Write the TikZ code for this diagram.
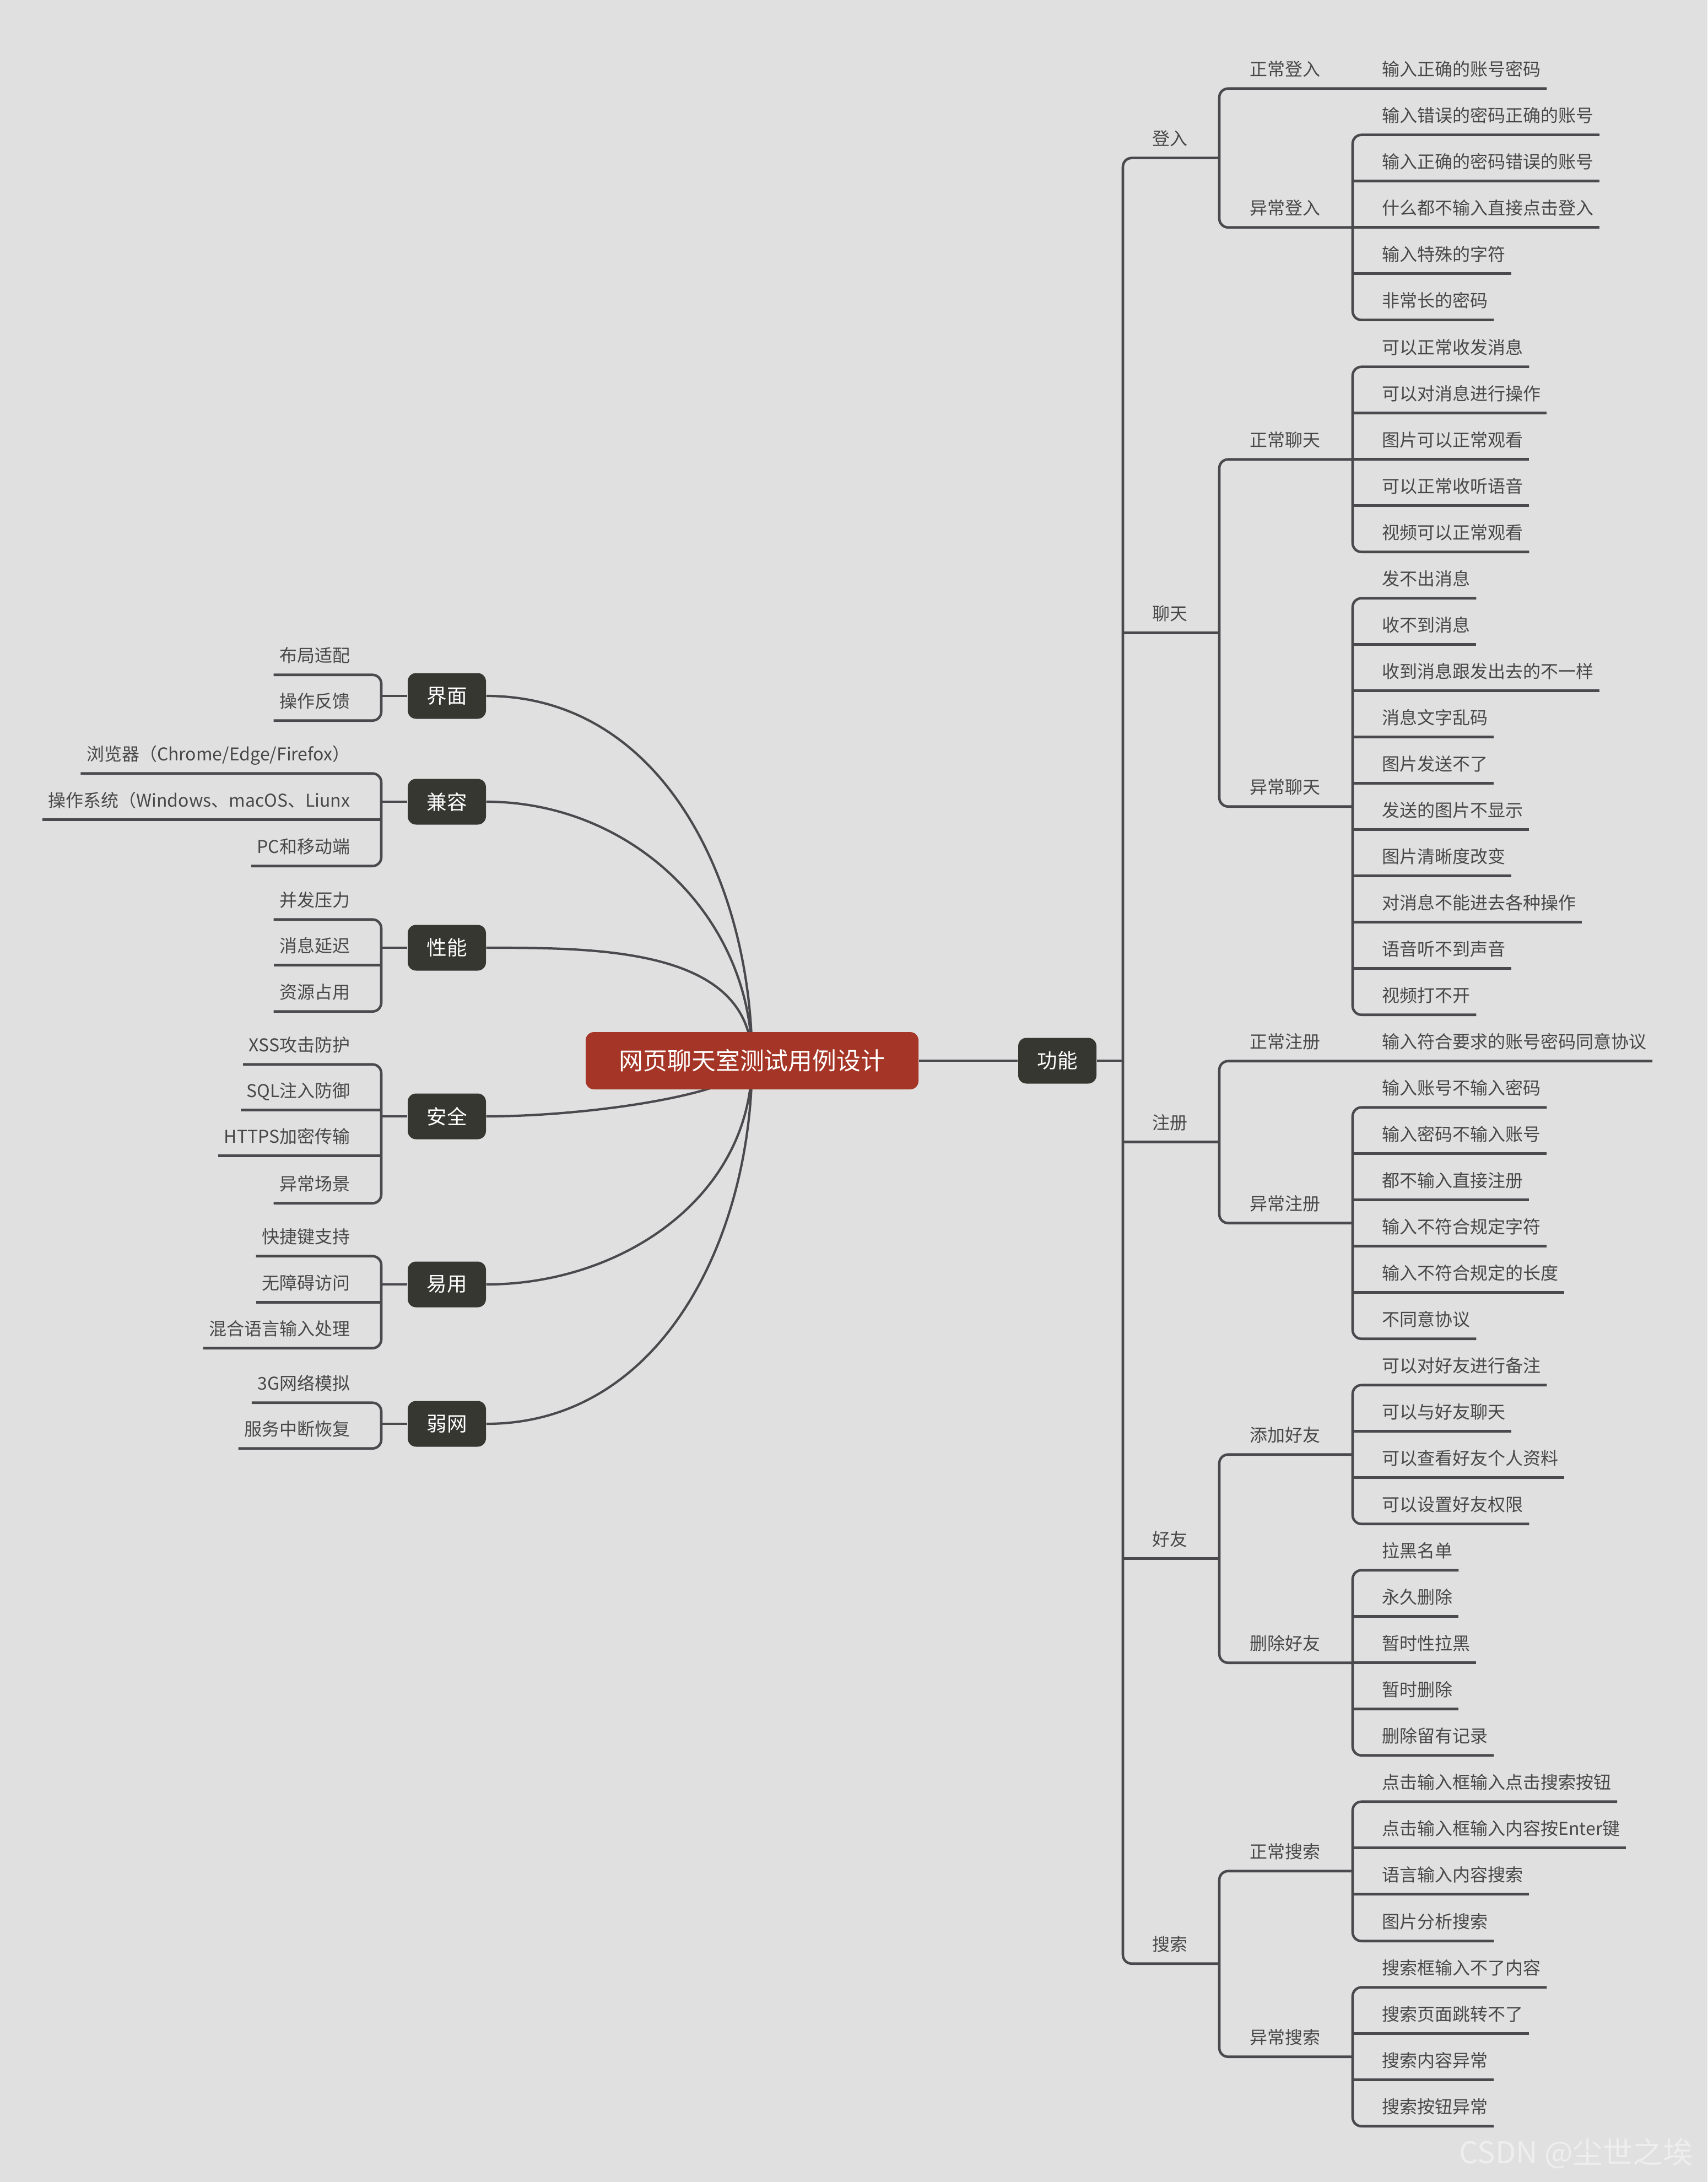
\documentclass[tikz,border=0pt]{standalone}
\usepackage{fontspec}
\setmainfont{Noto Sans CJK SC}
\usetikzlibrary{positioning, backgrounds}

\definecolor{paperbg}{RGB}{224,224,224}
\definecolor{rootred}{RGB}{165,53,38}
\definecolor{catdark}{RGB}{55,55,50}
\definecolor{linegray}{RGB}{74,74,78}
\definecolor{textgray}{RGB}{72,72,72}
\definecolor{markgray}{RGB}{238,238,238}

\pgfdeclarelayer{paper}
\pgfsetlayers{paper,background,main}

\begin{document}
\begin{tikzpicture}[
    root/.style={rectangle, rounded corners=0.15cm, fill=rootred, text=white, minimum width=6.04cm, minimum height=1.04cm, font=\fontsize{12.5}{15}\selectfont},
    cat/.style={rectangle, rounded corners=0.15cm, fill=catdark, text=white, minimum width=1.42cm, minimum height=0.83cm, font=\fontsize{10.4}{12}\selectfont},
    item/.style={inner xsep=0.1cm, inner ysep=0.18cm, text height=0.27cm, text depth=0.05cm, text=textgray, font=\fontsize{9.1}{11}\selectfont},
    ritem/.style={item, anchor=west},
    litem/.style={item, anchor=east},
    branch/.style={draw=linegray, line width=1.3pt, rounded corners=0.16cm},
    curve/.style={draw=linegray, line width=1.2pt}
]

% paper and size
\begin{pgfonlayer}{paper}
\fill[paperbg] (0,0) rectangle (30.99,-39.60);
\end{pgfonlayer}
\useasboundingbox (0,0) rectangle (30.99,-39.60);

% bracket columns
\coordinate (lx) at (6.92,0);
\coordinate (x1) at (20.38,0);
\coordinate (x2) at (22.13,0);
\coordinate (x3) at (24.55,0);

% === CENTRE ===
\node[root] (root) at (13.65,-19.25) {网页聊天室测试用例设计};
\node[cat] (gongneng) at (19.19,-19.25) {功能};
\draw[branch] (root.east) -- (gongneng.west);

% === LEFT CATEGORIES ===
\node[cat] (jiemian) at (8.11,-12.63) {界面};
\node[cat] (jianrong) at (8.11,-14.55) {兼容};
\node[cat] (xingneng) at (8.11,-17.20) {性能};
\node[cat] (anquan) at (8.11,-20.26) {安全};
\node[cat] (yiyong) at (8.11,-23.31) {易用};
\node[cat] (ruowang) at (8.11,-25.84) {弱网};

\begin{scope}[on background layer]
    \draw[curve] (jiemian.east) to[out=0, in=90] (root.center);
    \draw[curve] (jianrong.east) to[out=0, in=90] (root.center);
    \draw[curve] (xingneng.east) to[out=0, in=90] (root.center);
    \draw[curve] (anquan.east) to[out=0, in=-90, in looseness=0.3] (root.center);
    \draw[curve] (yiyong.east) to[out=0, in=-90] (root.center);
    \draw[curve] (ruowang.east) to[out=0, in=-90] (root.center);
\end{scope}

% left leaves
\node[litem] (jm1) at (6.46,-11.90) {布局适配};
\node[litem] (jm2) at (6.46,-12.73) {操作反馈};
\node[litem] (jr1) at (6.46,-13.69) {浏览器（Chrome/Edge/Firefox）};
\node[litem] (jr2) at (6.46,-14.53) {操作系统（Windows、macOS、Liunx};
\node[litem] (jr3) at (6.46,-15.37) {PC和移动端};
\node[litem] (xn1) at (6.46,-16.34) {并发压力};
\node[litem] (xn2) at (6.46,-17.17) {消息延迟};
\node[litem] (xn3) at (6.46,-18.01) {资源占用};
\node[litem] (aq1) at (6.46,-18.97) {XSS攻击防护};
\node[litem] (aq2) at (6.46,-19.80) {SQL注入防御};
\node[litem] (aq3) at (6.46,-20.63) {HTTPS加密传输};
\node[litem] (aq4) at (6.46,-21.49) {异常场景};
\node[litem] (yy1) at (6.46,-22.45) {快捷键支持};
\node[litem] (yy2) at (6.46,-23.29) {无障碍访问};
\node[litem] (yy3) at (6.46,-24.12) {混合语言输入处理};
\node[litem] (rw1) at (6.46,-25.11) {3G网络模拟};
\node[litem] (rw2) at (6.46,-25.94) {服务中断恢复};

% left brackets
\draw[branch] (jm1.south west) -- (lx |- jm1.south) -- (lx |- jm2.south) -- (jm2.south west);
\draw[branch] (lx |- jiemian) -- (jiemian.west);
\draw[branch] (jr1.south west) -- (lx |- jr1.south) -- (lx |- jr3.south) -- (jr3.south west);
\draw[branch] (lx |- jr2.south) -- (jr2.south west);
\draw[branch] (lx |- jianrong) -- (jianrong.west);
\draw[branch] (xn1.south west) -- (lx |- xn1.south) -- (lx |- xn3.south) -- (xn3.south west);
\draw[branch] (lx |- xn2.south) -- (xn2.south west);
\draw[branch] (lx |- xingneng) -- (xingneng.west);
\draw[branch] (aq1.south west) -- (lx |- aq1.south) -- (lx |- aq4.south) -- (aq4.south west);
\draw[branch] (lx |- aq2.south) -- (aq2.south west) (lx |- aq3.south) -- (aq3.south west);
\draw[branch] (lx |- anquan) -- (anquan.west);
\draw[branch] (yy1.south west) -- (lx |- yy1.south) -- (lx |- yy3.south) -- (yy3.south west);
\draw[branch] (lx |- yy2.south) -- (yy2.south west);
\draw[branch] (lx |- yiyong) -- (yiyong.west);
\draw[branch] (rw1.south west) -- (lx |- rw1.south) -- (lx |- rw2.south) -- (rw2.south west);
\draw[branch] (lx |- ruowang) -- (ruowang.west);

% === RIGHT: 功能 ===
\node[ritem] (denglu) at (20.81,-2.52) {登入};
\node[ritem] (liaotian) at (20.81,-11.14) {聊天};
\node[ritem] (zhuce) at (20.81,-20.38) {注册};
\node[ritem] (haoyou) at (20.81,-27.94) {好友};
\node[ritem] (sousuo) at (20.81,-35.29) {搜索};

\node[ritem] (zcdl) at (22.58,-1.26) {正常登入};
\node[ritem] (ycdl) at (22.58,-3.78) {异常登入};
\node[ritem] (zclt) at (22.58,-7.99) {正常聊天};
\node[ritem] (yclt) at (22.58,-14.29) {异常聊天};
\node[ritem] (zczc) at (22.58,-18.91) {正常注册};
\node[ritem] (yczc) at (22.58,-21.85) {异常注册};
\node[ritem] (tjhy) at (22.58,-26.05) {添加好友};
\node[ritem] (schy) at (22.58,-29.83) {删除好友};
\node[ritem] (zcss) at (22.58,-33.61) {正常搜索};
\node[ritem] (ycss) at (22.58,-36.98) {异常搜索};

% login
\node[ritem] (zcdl1) at (24.98,-1.26) {输入正确的账号密码};
\node[ritem] (ycdl1) at (24.98,-2.10) {输入错误的密码正确的账号};
\node[ritem] (ycdl2) at (24.98,-2.94) {输入正确的密码错误的账号};
\node[ritem] (ycdl3) at (24.98,-3.78) {什么都不输入直接点击登入};
\node[ritem] (ycdl4) at (24.98,-4.62) {输入特殊的字符};
\node[ritem] (ycdl5) at (24.98,-5.46) {非常长的密码};
% chat
\node[ritem] (zclt1) at (24.98,-6.31) {可以正常收发消息};
\node[ritem] (zclt2) at (24.98,-7.15) {可以对消息进行操作};
\node[ritem] (zclt3) at (24.98,-7.99) {图片可以正常观看};
\node[ritem] (zclt4) at (24.98,-8.83) {可以正常收听语音};
\node[ritem] (zclt5) at (24.98,-9.67) {视频可以正常观看};
\node[ritem] (yclt1) at (24.98,-10.51) {发不出消息};
\node[ritem] (yclt2) at (24.98,-11.35) {收不到消息};
\node[ritem] (yclt3) at (24.98,-12.19) {收到消息跟发出去的不一样};
\node[ritem] (yclt4) at (24.98,-13.03) {消息文字乱码};
\node[ritem] (yclt5) at (24.98,-13.87) {图片发送不了};
\node[ritem] (yclt6) at (24.98,-14.71) {发送的图片不显示};
\node[ritem] (yclt7) at (24.98,-15.55) {图片清晰度改变};
\node[ritem] (yclt8) at (24.98,-16.39) {对消息不能进去各种操作};
\node[ritem] (yclt9) at (24.98,-17.23) {语音听不到声音};
\node[ritem] (yclt10) at (24.98,-18.07) {视频打不开};
% register
\node[ritem] (zczc1) at (24.98,-18.91) {输入符合要求的账号密码同意协议};
\node[ritem] (yczc1) at (24.98,-19.75) {输入账号不输入密码};
\node[ritem] (yczc2) at (24.98,-20.59) {输入密码不输入账号};
\node[ritem] (yczc3) at (24.98,-21.43) {都不输入直接注册};
\node[ritem] (yczc4) at (24.98,-22.27) {输入不符合规定字符};
\node[ritem] (yczc5) at (24.98,-23.11) {输入不符合规定的长度};
\node[ritem] (yczc6) at (24.98,-23.95) {不同意协议};
% friends
\node[ritem] (tjhy1) at (24.98,-24.79) {可以对好友进行备注};
\node[ritem] (tjhy2) at (24.98,-25.63) {可以与好友聊天};
\node[ritem] (tjhy3) at (24.98,-26.47) {可以查看好友个人资料};
\node[ritem] (tjhy4) at (24.98,-27.31) {可以设置好友权限};
\node[ritem] (schy1) at (24.98,-28.15) {拉黑名单};
\node[ritem] (schy2) at (24.98,-28.99) {永久删除};
\node[ritem] (schy3) at (24.98,-29.83) {暂时性拉黑};
\node[ritem] (schy4) at (24.98,-30.67) {暂时删除};
\node[ritem] (schy5) at (24.98,-31.51) {删除留有记录};
% search
\node[ritem] (zcss1) at (24.98,-32.35) {点击输入框输入点击搜索按钮};
\node[ritem] (zcss2) at (24.98,-33.19) {点击输入框输入内容按Enter键};
\node[ritem] (zcss3) at (24.98,-34.03) {语言输入内容搜索};
\node[ritem] (zcss4) at (24.98,-34.88) {图片分析搜索};
\node[ritem] (ycss1) at (24.98,-35.72) {搜索框输入不了内容};
\node[ritem] (ycss2) at (24.98,-36.56) {搜索页面跳转不了};
\node[ritem] (ycss3) at (24.98,-37.40) {搜索内容异常};
\node[ritem] (ycss4) at (24.98,-38.24) {搜索按钮异常};

% trunk
\draw[branch] (gongneng.east) -- (x1 |- gongneng.east);
\draw[branch] (x2 |- denglu.south) -- (x1 |- denglu.south) -- (x1 |- sousuo.south) -- (x2 |- sousuo.south);
\draw[branch] (x1 |- liaotian.south) -- (x2 |- liaotian.south) (x1 |- zhuce.south) -- (x2 |- zhuce.south)
    (x1 |- haoyou.south) -- (x2 |- haoyou.south);

% second level
\draw[branch] (zcdl1.south east) -- (x2 |- zcdl.south) -- (x2 |- ycdl.south) -- (x3 |- ycdl.south);
\draw[branch] (x3 |- zclt.south) -- (x2 |- zclt.south) -- (x2 |- yclt.south) -- (x3 |- yclt.south);
\draw[branch] (zczc1.south east) -- (x2 |- zczc.south) -- (x2 |- yczc.south) -- (x3 |- yczc.south);
\draw[branch] (x3 |- tjhy.south) -- (x2 |- tjhy.south) -- (x2 |- schy.south) -- (x3 |- schy.south);
\draw[branch] (x3 |- zcss.south) -- (x2 |- zcss.south) -- (x2 |- ycss.south) -- (x3 |- ycss.south);

% leaves
\draw[branch] (ycdl1.south east) -- (x3 |- ycdl1.south) -- (x3 |- ycdl5.south) -- (ycdl5.south east);
\draw[branch] (x3 |- ycdl2.south) -- (ycdl2.south east) (x3 |- ycdl3.south) -- (ycdl3.south east)
    (x3 |- ycdl4.south) -- (ycdl4.south east);
\draw[branch] (zclt1.south east) -- (x3 |- zclt1.south) -- (x3 |- zclt5.south) -- (zclt5.south east);
\draw[branch] (x3 |- zclt2.south) -- (zclt2.south east) (x3 |- zclt3.south) -- (zclt3.south east)
    (x3 |- zclt4.south) -- (zclt4.south east);
\draw[branch] (yclt1.south east) -- (x3 |- yclt1.south) -- (x3 |- yclt10.south) -- (yclt10.south east);
\draw[branch] (x3 |- yclt2.south) -- (yclt2.south east) (x3 |- yclt3.south) -- (yclt3.south east)
    (x3 |- yclt4.south) -- (yclt4.south east) (x3 |- yclt5.south) -- (yclt5.south east)
    (x3 |- yclt6.south) -- (yclt6.south east) (x3 |- yclt7.south) -- (yclt7.south east)
    (x3 |- yclt8.south) -- (yclt8.south east) (x3 |- yclt9.south) -- (yclt9.south east);
\draw[branch] (yczc1.south east) -- (x3 |- yczc1.south) -- (x3 |- yczc6.south) -- (yczc6.south east);
\draw[branch] (x3 |- yczc2.south) -- (yczc2.south east) (x3 |- yczc3.south) -- (yczc3.south east)
    (x3 |- yczc4.south) -- (yczc4.south east) (x3 |- yczc5.south) -- (yczc5.south east);
\draw[branch] (tjhy1.south east) -- (x3 |- tjhy1.south) -- (x3 |- tjhy4.south) -- (tjhy4.south east);
\draw[branch] (x3 |- tjhy2.south) -- (tjhy2.south east) (x3 |- tjhy3.south) -- (tjhy3.south east);
\draw[branch] (schy1.south east) -- (x3 |- schy1.south) -- (x3 |- schy5.south) -- (schy5.south east);
\draw[branch] (x3 |- schy2.south) -- (schy2.south east) (x3 |- schy3.south) -- (schy3.south east)
    (x3 |- schy4.south) -- (schy4.south east);
\draw[branch] (zcss1.south east) -- (x3 |- zcss1.south) -- (x3 |- zcss4.south) -- (zcss4.south east);
\draw[branch] (x3 |- zcss2.south) -- (zcss2.south east) (x3 |- zcss3.south) -- (zcss3.south east);
\draw[branch] (ycss1.south east) -- (x3 |- ycss1.south) -- (x3 |- ycss4.south) -- (ycss4.south east);
\draw[branch] (x3 |- ycss2.south) -- (ycss2.south east) (x3 |- ycss3.south) -- (ycss3.south east);

% watermark
\node[anchor=east, text=markgray, font=\fontsize{15.5}{18}\selectfont] (mark) at (30.85,-39.08) {CSDN @尘世之埃};

\end{tikzpicture}
\end{document}
